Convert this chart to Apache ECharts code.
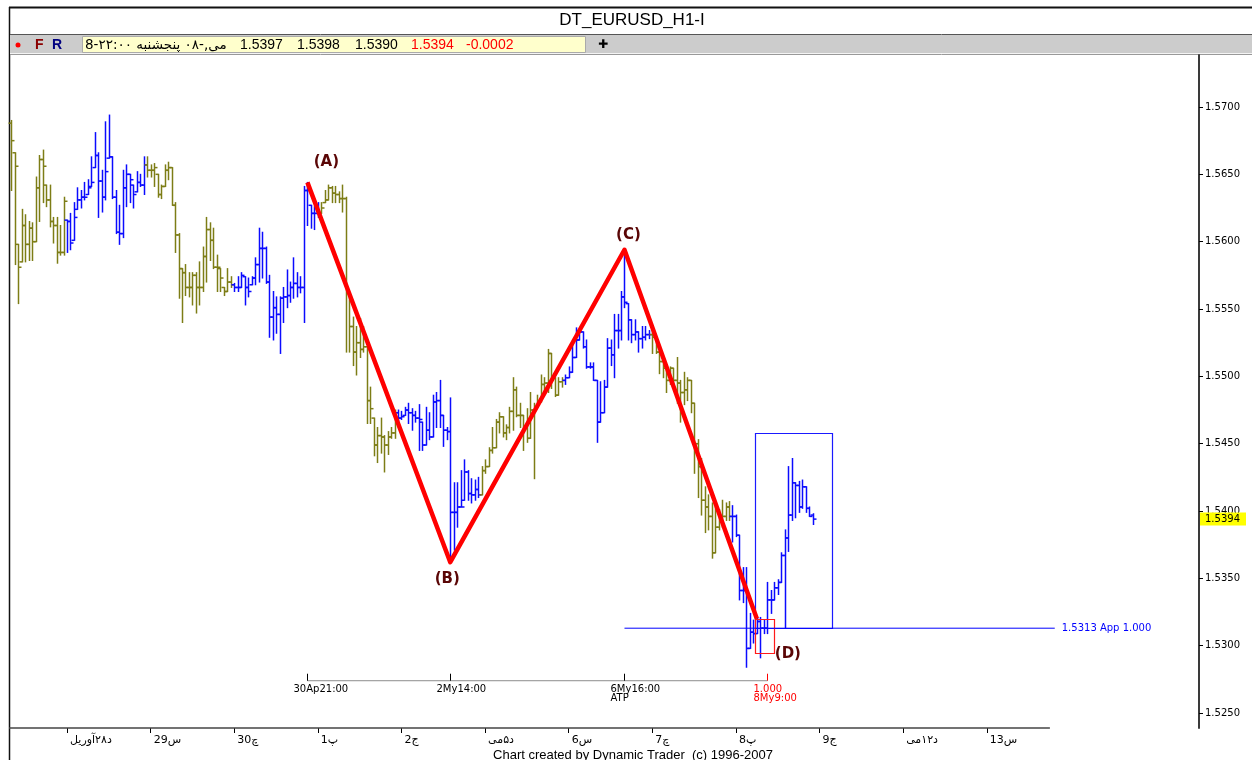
<!DOCTYPE html>
<html lang="en">
<head>
<meta charset="utf-8">
<title>DT_EURUSD_H1-I</title>
<script src="https://cdn.jsdelivr.net/npm/echarts@6.0.0/dist/echarts.min.js"></script>
<style>
  html, body { margin: 0; padding: 0; background: #ffffff; }
  #chart { width: 1252px; height: 760px; }
</style>
</head>
<body>
<div id="chart"></div>
<script>
// EUR/USD hourly bars. Slot 0 = 28 Apr 00:00, one slot per trading hour (24 per day, weekends skipped).
const FIRST_SLOT = -16;

const opens = [
  1.5688,1.5666,1.5598,1.5585,1.5612,1.5598,1.5610,1.5600,1.5640,1.5661,
  1.5642,1.5631,1.5615,1.5612,1.5592,1.5592,1.5616,1.5615,1.5601,1.5624,
  1.5631,1.5633,1.5635,1.5641,1.5655,1.5664,1.5645,1.5633,1.5662,1.5663,
  1.5633,1.5607,1.5606,1.5640,1.5650,1.5642,1.5637,1.5644,1.5642,1.5657,
  1.5653,1.5653,1.5650,1.5635,1.5641,1.5653,1.5655,1.5627,1.5605,1.5580,
  1.5577,1.5566,1.5566,1.5575,1.5566,1.5566,1.5589,1.5609,1.5601,1.5581,
  1.5580,1.5566,1.5563,1.5570,1.5568,1.5566,1.5566,1.5574,1.5566,1.5568,
  1.5573,1.5583,1.5595,1.5595,1.5570,1.5544,1.5551,1.5546,1.5558,1.5559,
  1.5560,1.5566,1.5569,1.5566,1.5566,1.5638,1.5627,1.5621,1.5621,1.5621,
  1.5629,1.5631,1.5640,1.5636,1.5635,1.5632,1.5632,1.5562,1.5537,1.5518,
  1.5525,1.5520,1.5522,1.5482,1.5469,1.5449,1.5456,1.5455,1.5449,1.5455,
  1.5458,1.5473,1.5469,1.5471,1.5475,1.5473,1.5471,1.5469,1.5466,1.5449,
  1.5460,1.5455,1.5481,1.5482,1.5471,1.5460,1.5459,1.5399,1.5399,1.5403,
  1.5408,1.5429,1.5413,1.5412,1.5416,1.5412,1.5430,1.5433,1.5445,1.5447,
  1.5466,1.5470,1.5458,1.5462,1.5474,1.5490,1.5471,1.5471,1.5462,1.5454,
  1.5475,1.5477,1.5481,1.5494,1.5495,1.5517,1.5499,1.5486,1.5496,1.5497,
  1.5499,1.5503,1.5514,1.5527,1.5533,1.5522,1.5507,1.5507,1.5497,1.5466,
  1.5473,1.5492,1.5521,1.5516,1.5534,1.5534,1.5559,1.5554,1.5542,1.5531,
  1.5533,1.5528,1.5529,1.5531,1.5531,1.5529,1.5518,1.5511,1.5506,1.5497,
  1.5506,1.5497,1.5495,1.5488,1.5490,1.5497,1.5480,1.5450,1.5433,1.5408,
  1.5403,1.5396,1.5369,1.5388,1.5396,1.5396,1.5403,1.5396,1.5396,1.5382,
  1.5341,1.5341,1.5298,1.5310,1.5309,1.5318,1.5313,1.5313,1.5334,1.5334,
  1.5343,1.5347,1.5367,1.5380,1.5397,1.5421,1.5419,1.5403,1.5418,1.5402,1.5397
];
const highs = [
  1.5690,1.5666,1.5598,1.5624,1.5620,1.5615,1.5614,1.5648,1.5664,1.5668,
  1.5642,1.5642,1.5618,1.5618,1.5612,1.5633,1.5616,1.5621,1.5629,1.5640,
  1.5638,1.5644,1.5646,1.5663,1.5681,1.5666,1.5653,1.5689,1.5694,1.5663,
  1.5638,1.5627,1.5653,1.5657,1.5650,1.5642,1.5652,1.5650,1.5663,1.5663,
  1.5657,1.5658,1.5650,1.5642,1.5657,1.5659,1.5655,1.5629,1.5606,1.5580,
  1.5583,1.5577,1.5577,1.5577,1.5585,1.5596,1.5618,1.5614,1.5610,1.5590,
  1.5580,1.5566,1.5580,1.5574,1.5569,1.5574,1.5577,1.5574,1.5573,1.5574,
  1.5588,1.5610,1.5607,1.5596,1.5575,1.5563,1.5559,1.5559,1.5566,1.5579,
  1.5570,1.5588,1.5577,1.5574,1.5641,1.5644,1.5627,1.5626,1.5629,1.5629,
  1.5638,1.5642,1.5641,1.5641,1.5637,1.5642,1.5633,1.5562,1.5544,1.5537,
  1.5543,1.5537,1.5522,1.5492,1.5469,1.5462,1.5469,1.5456,1.5459,1.5462,
  1.5475,1.5475,1.5474,1.5477,1.5480,1.5476,1.5474,1.5479,1.5466,1.5477,
  1.5473,1.5486,1.5488,1.5497,1.5471,1.5462,1.5484,1.5421,1.5421,1.5430,
  1.5438,1.5430,1.5424,1.5423,1.5425,1.5433,1.5438,1.5447,1.5462,1.5468,
  1.5473,1.5470,1.5464,1.5477,1.5499,1.5492,1.5480,1.5471,1.5476,1.5488,
  1.5480,1.5486,1.5501,1.5499,1.5520,1.5517,1.5499,1.5499,1.5499,1.5501,
  1.5507,1.5525,1.5536,1.5534,1.5533,1.5527,1.5510,1.5510,1.5497,1.5496,
  1.5497,1.5528,1.5527,1.5546,1.5546,1.5563,1.5594,1.5554,1.5542,1.5542,
  1.5533,1.5537,1.5537,1.5534,1.5536,1.5529,1.5518,1.5512,1.5507,1.5507,
  1.5506,1.5514,1.5497,1.5503,1.5499,1.5497,1.5480,1.5453,1.5439,1.5418,
  1.5412,1.5406,1.5403,1.5401,1.5408,1.5406,1.5407,1.5404,1.5397,1.5382,
  1.5358,1.5358,1.5324,1.5319,1.5321,1.5321,1.5319,1.5347,1.5341,1.5347,
  1.5349,1.5369,1.5386,1.5433,1.5439,1.5421,1.5422,1.5423,1.5418,1.5403,1.5398
];
const lows = [
  1.5638,1.5583,1.5554,1.5585,1.5585,1.5586,1.5586,1.5600,1.5615,1.5629,
  1.5626,1.5611,1.5599,1.5584,1.5590,1.5590,1.5592,1.5594,1.5601,1.5624,
  1.5625,1.5631,1.5635,1.5641,1.5655,1.5618,1.5622,1.5631,1.5662,1.5632,
  1.5606,1.5598,1.5603,1.5626,1.5629,1.5625,1.5637,1.5641,1.5635,1.5648,
  1.5648,1.5641,1.5633,1.5632,1.5641,1.5646,1.5627,1.5592,1.5558,1.5540,
  1.5560,1.5559,1.5553,1.5547,1.5553,1.5563,1.5570,1.5586,1.5580,1.5563,
  1.5563,1.5560,1.5563,1.5566,1.5563,1.5563,1.5566,1.5553,1.5559,1.5568,
  1.5568,1.5570,1.5573,1.5569,1.5529,1.5527,1.5532,1.5517,1.5540,1.5551,
  1.5555,1.5558,1.5559,1.5562,1.5540,1.5612,1.5610,1.5609,1.5618,1.5621,
  1.5629,1.5631,1.5629,1.5629,1.5629,1.5622,1.5518,1.5518,1.5508,1.5501,
  1.5514,1.5518,1.5465,1.5465,1.5441,1.5436,1.5443,1.5429,1.5442,1.5454,
  1.5454,1.5465,1.5468,1.5471,1.5465,1.5460,1.5466,1.5445,1.5445,1.5449,
  1.5453,1.5455,1.5462,1.5462,1.5448,1.5453,1.5362,1.5371,1.5388,1.5403,
  1.5408,1.5408,1.5406,1.5408,1.5410,1.5412,1.5428,1.5433,1.5443,1.5447,
  1.5458,1.5455,1.5453,1.5458,1.5460,1.5470,1.5462,1.5445,1.5451,1.5454,
  1.5424,1.5477,1.5481,1.5488,1.5488,1.5491,1.5485,1.5486,1.5492,1.5494,
  1.5499,1.5503,1.5514,1.5527,1.5521,1.5506,1.5506,1.5497,1.5451,1.5466,
  1.5473,1.5492,1.5508,1.5499,1.5521,1.5527,1.5551,1.5527,1.5525,1.5527,
  1.5518,1.5521,1.5527,1.5528,1.5517,1.5517,1.5502,1.5499,1.5488,1.5494,
  1.5492,1.5480,1.5466,1.5479,1.5482,1.5473,1.5428,1.5410,1.5397,1.5384,
  1.5386,1.5365,1.5369,1.5386,1.5388,1.5393,1.5393,1.5377,1.5381,1.5334,
  1.5332,1.5284,1.5298,1.5302,1.5309,1.5291,1.5309,1.5309,1.5324,1.5334,
  1.5338,1.5347,1.5313,1.5370,1.5393,1.5395,1.5399,1.5402,1.5399,1.5396,1.5390
];
const closes = [
  1.5675,1.5656,1.5581,1.5612,1.5598,1.5610,1.5600,1.5640,1.5661,1.5656,
  1.5631,1.5615,1.5612,1.5592,1.5592,1.5630,1.5615,1.5599,1.5618,1.5631,
  1.5633,1.5633,1.5640,1.5644,1.5664,1.5645,1.5633,1.5652,1.5663,1.5633,
  1.5607,1.5606,1.5640,1.5650,1.5646,1.5635,1.5644,1.5642,1.5657,1.5653,
  1.5653,1.5655,1.5635,1.5641,1.5653,1.5655,1.5627,1.5605,1.5580,1.5577,
  1.5566,1.5566,1.5575,1.5566,1.5566,1.5589,1.5609,1.5601,1.5581,1.5581,
  1.5573,1.5563,1.5570,1.5568,1.5566,1.5566,1.5575,1.5566,1.5563,1.5573,
  1.5583,1.5595,1.5595,1.5570,1.5544,1.5551,1.5546,1.5558,1.5559,1.5560,
  1.5566,1.5569,1.5566,1.5566,1.5638,1.5638,1.5621,1.5621,1.5621,1.5625,
  1.5631,1.5640,1.5636,1.5635,1.5632,1.5632,1.5562,1.5537,1.5518,1.5525,
  1.5520,1.5522,1.5482,1.5476,1.5449,1.5456,1.5455,1.5449,1.5455,1.5458,
  1.5473,1.5469,1.5470,1.5475,1.5473,1.5471,1.5469,1.5468,1.5449,1.5460,
  1.5455,1.5481,1.5482,1.5471,1.5460,1.5459,1.5399,1.5399,1.5403,1.5403,
  1.5429,1.5413,1.5412,1.5416,1.5412,1.5430,1.5433,1.5445,1.5447,1.5466,
  1.5470,1.5458,1.5462,1.5474,1.5490,1.5471,1.5471,1.5462,1.5454,1.5475,
  1.5476,1.5480,1.5494,1.5495,1.5517,1.5499,1.5486,1.5496,1.5497,1.5499,
  1.5503,1.5514,1.5527,1.5533,1.5522,1.5507,1.5507,1.5497,1.5466,1.5473,
  1.5492,1.5521,1.5516,1.5534,1.5534,1.5559,1.5555,1.5542,1.5531,1.5533,
  1.5528,1.5529,1.5531,1.5531,1.5529,1.5518,1.5511,1.5506,1.5497,1.5506,
  1.5497,1.5495,1.5488,1.5490,1.5497,1.5480,1.5450,1.5433,1.5408,1.5403,
  1.5396,1.5369,1.5388,1.5396,1.5396,1.5403,1.5396,1.5396,1.5382,1.5341,
  1.5341,1.5298,1.5310,1.5309,1.5318,1.5313,1.5313,1.5334,1.5334,1.5343,
  1.5347,1.5367,1.5380,1.5397,1.5421,1.5419,1.5403,1.5418,1.5402,1.5396,1.5394
];
// Swing colouring of each bar: o = down swing (olive), b = up swing (blue)
const swing = [
  'ooooo ooooo ooooo o',
  'bbbbb bbbbb bbbbb bbbbb bbb',
  'ooooo ooooo ooooo ooooo ooooo',
  'bbbbb bbbbb bbbbb bbbbb bbbbb',
  'ooooo ooooo ooooo ooooo oo',
  'bbbbb bbbbb bbbbb bbbbb bbbb',
  'ooooo ooooo ooooo ooooo oooo',
  'bbbbb bbbbb bbbbb bbbbb bbbbb',
  'ooooo ooooo ooooo ooooo ooo',
  'bbbbb bbbbb bbbbb bbbbb bbbb'
].join('').replace(/ /g, '');

// Time axis: first slot of each trading day
const daySlots  = [0, 24, 48, 72, 96, 120, 144, 168, 192, 216, 240, 264];
const dayLabels = ['د۲۸آوریل', 'س29', 'چ30', 'پ1', 'ج2', 'د۵مى', 'س6', 'چ7', 'پ8', 'ج9', 'د۱۲مى', 'س13'];
const priceTicks = [1.525, 1.530, 1.535, 1.540, 1.545, 1.550, 1.555, 1.560, 1.565, 1.570];

// ABCD pattern pivots
const pivotSlots  = [69, 110, 160, 198];
const pivotPrices = [1.5644, 1.5362, 1.5594, 1.5320];
const pivotNames  = ['(A)', '(B)', '(C)', '(D)'];

// Time ruler under the pattern
const rulerSlots  = [69, 110, 160, 201];
const rulerTop    = ['30Ap21:00', '2My14:00', '6My16:00', '1.000'];
const rulerBottom = ['', '', 'ATP', '8My9:00'];
const rulerTarget = [false, false, false, true];

// AB=CD price projection
const targetPrice = 1.5313;
const targetText  = 'App 1.000';
const targetSlots = [160, 283.5];

// Boxes: reaction box and D zone
const boxSlotFrom = [197.5, 197.5];
const boxSlotTo   = [219.5, 203];
const boxLow      = [1.5313, 1.5295];
const boxHigh     = [1.5458, 1.5320];
const boxKind     = [0, 1];

// ---- layout (pixels per hourly slot is fixed by the grid and the axis extent) ----
const X_MIN = -16.65, X_MAX = 324.9, AXIS_END = 282.1;
const Y_MIN = 1.52389, Y_MAX = 1.57386;
const RULER_LEVEL = 1.5274;
const SWING_COLORS = ['#7d7d16', '#0b0bff'];
const BOX_COLORS = ['#1a1aff', '#ff1a1a'];
const PIVOT_LABEL_OFFSET = [[19, -20], [-3, 17], [4, -15], [31, 35]];
const UI_FONT = '"Liberation Sans", "DejaVu Sans", Arial, sans-serif';
const AXIS_FONT = '"DejaVu Sans", Verdana, sans-serif';

const bars = opens.map((o, i) => [FIRST_SLOT + i, o, highs[i], lows[i], closes[i], swing[i] === 'b' ? 1 : 0]);
const last = closes.length - 1;

function renderBar(params, api) {
  const slot = api.value(0);
  const top = api.coord([slot, api.value(2)]);
  const bot = api.coord([slot, api.value(3)]);
  const op = api.coord([slot, api.value(1)]);
  const cl = api.coord([slot, api.value(4)]);
  const x = Math.round(top[0]) + 0.5;
  const st = { stroke: SWING_COLORS[api.value(5)], lineWidth: 1.5 };
  return {
    type: 'group',
    children: [
      { type: 'line', shape: { x1: x, y1: top[1] - 0.5, x2: x, y2: bot[1] + 0.5 }, style: st },
      { type: 'line', shape: { x1: x - 3, y1: op[1], x2: x, y2: op[1] }, style: st },
      { type: 'line', shape: { x1: x, y1: cl[1], x2: x + 3, y2: cl[1] }, style: st }
    ]
  };
}

function renderRuler(params, api) {
  const i = api.value(1);
  const p = api.coord([api.value(0), RULER_LEVEL]);
  const color = rulerTarget[i] ? '#ff0000' : '#000000';
  const x = Math.round(p[0]) + 0.5;
  const children = [
    { type: 'line', shape: { x1: x, y1: p[1] - 7, x2: x, y2: p[1] }, style: { stroke: color, lineWidth: 1 } },
    { type: 'text', x: x - 14, y: p[1] + 4,
      style: { text: rulerTop[i], fill: color, font: '10px ' + AXIS_FONT, align: 'left', verticalAlign: 'top' } }
  ];
  if (rulerBottom[i]) {
    children.push({ type: 'text', x: x - 14, y: p[1] + 13,
      style: { text: rulerBottom[i], fill: color, font: '10px ' + AXIS_FONT, align: 'left', verticalAlign: 'top' } });
  }
  return { type: 'group', children };
}

function renderBox(params, api) {
  const a = api.coord([api.value(0), api.value(3)]);
  const b = api.coord([api.value(1), api.value(2)]);
  return {
    type: 'rect',
    shape: { x: Math.round(a[0]) + 0.5, y: Math.round(a[1]) + 0.5,
             width: Math.round(b[0] - a[0]), height: Math.round(b[1] - a[1]) },
    style: { fill: 'none', stroke: BOX_COLORS[api.value(4)], lineWidth: 1.2 }
  };
}

function renderPivotLabel(params, api) {
  const i = api.value(2);
  const p = api.coord([api.value(0), api.value(1)]);
  const off = PIVOT_LABEL_OFFSET[i];
  return {
    type: 'text', x: p[0] + off[0], y: p[1] + off[1],
    style: {
      text: pivotNames[i], fill: '#5a0606', font: 'bold 15px ' + AXIS_FONT,
      align: 'center', verticalAlign: 'middle'
    }
  };
}

function renderPriceTag(params, api) {
  const cs = params.coordSys;
  const p = api.coord([X_MIN, api.value(0)]);
  return {
    type: 'text',
    x: cs.x + cs.width + 1, y: p[1],
    style: {
      text: api.value(0).toFixed(4), fill: '#000', font: '10px ' + AXIS_FONT,
      align: 'left', verticalAlign: 'middle',
      backgroundColor: '#ffff00', padding: [2, 6, 1, 5]
    }
  };
}

const headerValues = [opens[last], highs[last], lows[last], closes[last]];
const change = closes[last] - closes[last - 1];
const headerX = [240, 297, 355, 411];

const graphics = [
  // window frame and title band
  { type: 'line', shape: { x1: 9, y1: 7.5, x2: 1252, y2: 7.5 }, style: { stroke: '#111', lineWidth: 2 } },
  { type: 'line', shape: { x1: 9.5, y1: 7, x2: 9.5, y2: 760 }, style: { stroke: '#111', lineWidth: 1.5 } },
  { type: 'text', x: 632, y: 20, style: { text: 'DT_EURUSD_H1-I', font: '17px ' + UI_FONT, fill: '#000', align: 'center', verticalAlign: 'middle' } },
  { type: 'rect', shape: { x: 10, y: 35, width: 1242, height: 18 }, style: { fill: '#cccccc' } },
  { type: 'line', shape: { x1: 10, y1: 34.5, x2: 1252, y2: 34.5 }, style: { stroke: '#555', lineWidth: 1 } },
  { type: 'line', shape: { x1: 10, y1: 53.5, x2: 1252, y2: 53.5 }, style: { stroke: '#f4f4f4', lineWidth: 1 } },
  { type: 'line', shape: { x1: 10, y1: 54.5, x2: 1252, y2: 54.5 }, style: { stroke: '#999', lineWidth: 1 } },
  { type: 'circle', shape: { cx: 18, cy: 45, r: 2.5 }, style: { fill: '#ff0000' } },
  { type: 'text', x: 35, y: 45, style: { text: 'F', font: 'bold 14px ' + UI_FONT, fill: '#8b0000', verticalAlign: 'middle' } },
  { type: 'text', x: 52, y: 45, style: { text: 'R', font: 'bold 14px ' + UI_FONT, fill: '#000080', verticalAlign: 'middle' } },
  { type: 'rect', shape: { x: 82.5, y: 36.5, width: 503, height: 16 }, style: { fill: '#ffffcc', stroke: '#aaaaaa', lineWidth: 1 } },
  { type: 'text', x: 85, y: 45, style: { text: 'مى,-۰۸ پنجشنبه ۲۲:۰۰-8', font: '13.5px "DejaVu Sans", sans-serif', fill: '#000', verticalAlign: 'middle' } },
  { type: 'text', x: 598, y: 45, style: { text: '✚', font: 'bold 12px "DejaVu Sans", sans-serif', fill: '#000', verticalAlign: 'middle' } },
  // footer
  { type: 'text', x: 633, y: 755, style: { text: 'Chart created by Dynamic Trader  (c) 1996-2007', font: '13px ' + UI_FONT, fill: '#000', align: 'center', verticalAlign: 'middle' } }
];
headerValues.forEach((v, i) => {
  graphics.push({ type: 'text', x: headerX[i], y: 45,
    style: { text: v.toFixed(4), font: '14px ' + UI_FONT, fill: i === 3 ? '#ff0000' : '#000', verticalAlign: 'middle' } });
});
graphics.push({ type: 'text', x: 466, y: 45,
  style: { text: change.toFixed(4), font: '14px ' + UI_FONT, fill: '#ff0000', verticalAlign: 'middle' } });

const chart = echarts.init(document.getElementById('chart'), null, { renderer: 'canvas' });
chart.setOption({
  animation: false,
  backgroundColor: '#ffffff',
  graphic: { elements: graphics },
  grid: { left: 9, right: 53, top: 55, bottom: 32, containLabel: false },
  xAxis: {
    type: 'value', min: X_MIN, max: X_MAX,
    axisLine: { show: false, onZero: false },
    splitLine: { show: false },
    axisTick: { show: true, customValues: daySlots, length: 5, lineStyle: { color: '#000', width: 1 } },
    axisLabel: {
      customValues: daySlots,
      formatter: v => dayLabels[daySlots.indexOf(v)] || '',
      align: 'left', margin: 7, padding: [0, 0, 0, 3],
      fontSize: 11, fontFamily: AXIS_FONT, color: '#000'
    }
  },
  yAxis: {
    type: 'value', position: 'right', min: Y_MIN, max: Y_MAX, scale: true,
    axisLine: { show: true, onZero: false, lineStyle: { color: '#3a3a3a', width: 2 } },
    splitLine: { show: false },
    axisTick: { show: true, customValues: priceTicks, length: 4, lineStyle: { color: '#000', width: 1 } },
    axisLabel: {
      customValues: priceTicks, formatter: v => v.toFixed(4),
      margin: 6, fontSize: 10, fontFamily: AXIS_FONT, color: '#000'
    }
  },
  series: [
    {
      name: 'bottom axis', type: 'line', silent: true, clip: false, symbol: 'none',
      data: [[X_MIN, Y_MIN], [AXIS_END, Y_MIN]],
      lineStyle: { color: '#444', width: 1.5 }, z: 1
    },
    {
      name: 'EURUSD H1', type: 'custom', renderItem: renderBar,
      data: bars, encode: { x: 0, y: [1, 2, 3, 4] }, z: 2, silent: true
    },
    {
      name: 'AB=CD target', type: 'line', silent: true, symbol: 'none',
      data: targetSlots.map(s => [s, targetPrice]),
      lineStyle: { color: '#0000ff', width: 1 }, z: 3,
      endLabel: {
        show: true, formatter: targetPrice.toFixed(4) + ' ' + targetText,
        color: '#0000ff', fontSize: 10, fontFamily: AXIS_FONT, distance: 7
      }
    },
    {
      name: 'boxes', type: 'custom', renderItem: renderBox, silent: true, z: 3,
      data: boxSlotFrom.map((s, i) => [s, boxSlotTo[i], boxLow[i], boxHigh[i], boxKind[i]])
    },
    {
      name: 'ABCD', type: 'line', silent: true, symbol: 'none',
      data: pivotSlots.map((s, i) => [s, pivotPrices[i]]),
      lineStyle: { color: '#ff0000', width: 4.5, join: 'round' }, z: 5
    },
    {
      name: 'pivot labels', type: 'custom', renderItem: renderPivotLabel, silent: true, z: 6,
      data: pivotSlots.map((s, i) => [s, pivotPrices[i], i])
    },
    {
      name: 'time ruler', type: 'line', silent: true, symbol: 'none',
      data: [[rulerSlots[0], RULER_LEVEL], [rulerSlots[rulerSlots.length - 1], RULER_LEVEL]],
      lineStyle: { color: '#8c8c8c', width: 1 }, z: 3
    },
    {
      name: 'time ruler marks', type: 'custom', renderItem: renderRuler, silent: true, z: 4,
      data: rulerSlots.map((s, i) => [s, i])
    },
    {
      name: 'last price', type: 'custom', renderItem: renderPriceTag, silent: true, z: 7,
      data: [[closes[last]]], encode: { y: 0 }
    }
  ]
});
</script>
</body>
</html>
